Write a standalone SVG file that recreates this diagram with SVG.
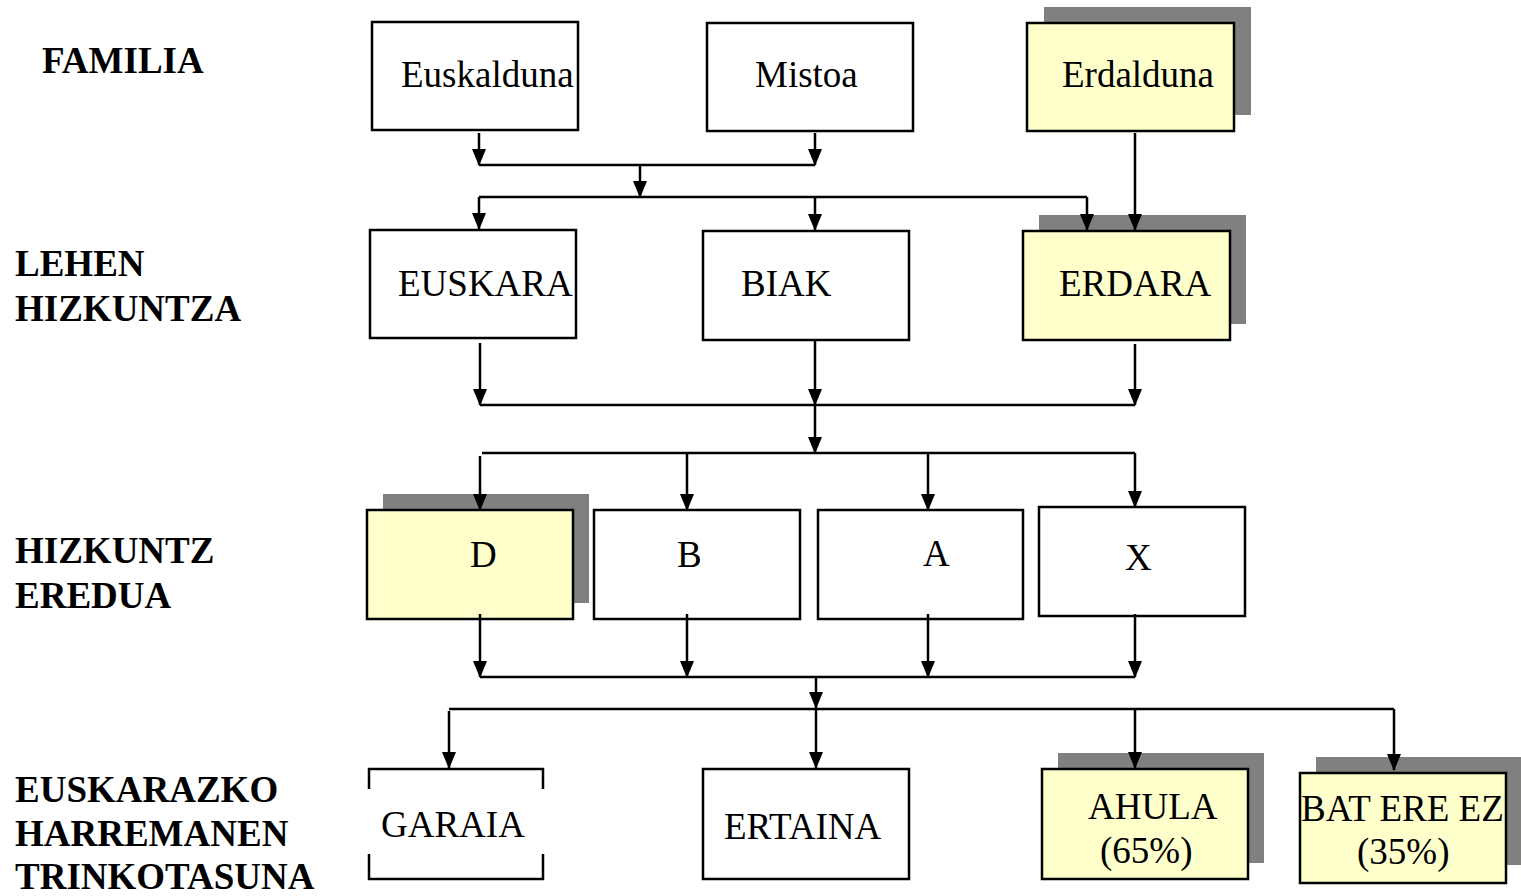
<svg xmlns="http://www.w3.org/2000/svg" width="1521" height="896" viewBox="0 0 1521 896">
<style>
.box{fill:#ffffff;stroke:#000;stroke-width:2.5}
.hl{fill:#ffffcc;stroke:#000;stroke-width:2.5}
.sh{fill:#808080;stroke:none}
.t{font-family:"Liberation Serif","Times New Roman",serif;font-size:37px;fill:#000}
.lab{font-family:"Liberation Serif","Times New Roman",serif;font-size:37px;font-weight:bold;fill:#000}
.ln{fill:none;stroke:#000;stroke-width:2.5}
.ar{fill:none;stroke:#000;stroke-width:2.5;marker-end:url(#ah)}
</style>
<defs>
<marker id="ah" markerUnits="userSpaceOnUse" markerWidth="17" markerHeight="14" refX="16" refY="7" orient="auto" viewBox="0 0 17 14">
<path d="M0,0 L17,7 L0,14 z" fill="#000"/>
</marker>
</defs>
<rect width="1521" height="896" fill="#ffffff"/>

<g id="labels">
<text class="lab" x="42" y="73">FAMILIA</text>
<text class="lab" x="15" y="276">LEHEN</text>
<text class="lab" x="15" y="321">HIZKUNTZA</text>
<text class="lab" x="15" y="563">HIZKUNTZ</text>
<text class="lab" x="15" y="608">EREDUA</text>
<text class="lab" x="15" y="802">EUSKARAZKO</text>
<text class="lab" x="15" y="846">HARREMANEN</text>
<text class="lab" x="15" y="889">TRINKOTASUNA</text>
</g>

<g id="euskalduna">
<rect class="box" x="372" y="22" width="206" height="108"/>
<text class="t" x="401" y="87">Euskalduna</text>
</g>
<g id="mistoa">
<rect class="box" x="707" y="23" width="206" height="108"/>
<text class="t" x="755" y="87">Mistoa</text>
</g>
<g id="erdalduna">
<rect class="sh" x="1044" y="7" width="207" height="108"/>
<rect class="hl" x="1027" y="23" width="207" height="108"/>
<text class="t" x="1062" y="87">Erdalduna</text>
</g>

<g id="euskara">
<rect class="box" x="370" y="230" width="206" height="108"/>
<text class="t" x="398" y="296">EUSKARA</text>
</g>
<g id="biak">
<rect class="box" x="703" y="231" width="206" height="109"/>
<text class="t" x="741" y="296">BIAK</text>
</g>
<g id="erdara">
<rect class="sh" x="1039" y="215" width="207" height="109"/>
<rect class="hl" x="1023" y="231" width="207" height="109"/>
<text class="t" x="1059" y="296">ERDARA</text>
</g>

<g id="ereduD">
<rect class="sh" x="383" y="494" width="206" height="109"/>
<rect class="hl" x="367" y="510" width="206" height="109"/>
<text class="t" x="470" y="567">D</text>
</g>
<g id="ereduB">
<rect class="box" x="594" y="510" width="206" height="109"/>
<text class="t" x="677" y="567">B</text>
</g>
<g id="ereduA">
<rect class="box" x="818" y="510" width="205" height="109"/>
<text class="t" x="923" y="566">A</text>
</g>
<g id="ereduX">
<rect class="box" x="1039" y="507" width="206" height="109"/>
<text class="t" x="1125" y="570">X</text>
</g>

<g id="garaia">
<path class="ln" d="M369,789 V769 H543 V789 M369,854 V879 H543 V854"/>
<text class="t" x="381" y="837">GARAIA</text>
</g>
<g id="ertaina">
<rect class="box" x="703" y="769" width="206" height="110"/>
<text class="t" x="724" y="839">ERTAINA</text>
</g>
<g id="ahula">
<rect class="sh" x="1058" y="753" width="206" height="110"/>
<rect class="hl" x="1042" y="769" width="206" height="110"/>
<text class="t" x="1088" y="819">AHULA</text>
<text class="t" x="1100" y="863">(65%)</text>
</g>
<g id="bateereez">
<rect class="sh" x="1316" y="757" width="206" height="108"/>
<rect class="hl" x="1300" y="773" width="206" height="110"/>
<text class="t" x="1301" y="821">BAT ERE EZ</text>
<text class="t" x="1357" y="864">(35%)</text>
</g>

<g id="connectors">
<path class="ar" d="M479,133 V165"/>
<path class="ar" d="M815,133 V165"/>
<path class="ln" d="M479,165 H815"/>
<path class="ar" d="M640,165 V197"/>
<path class="ln" d="M479,197 H1087"/>
<path class="ar" d="M479,197 V229"/>
<path class="ar" d="M815,197 V230"/>
<path class="ar" d="M1087,197 V230"/>
<path class="ar" d="M1135,133 V230"/>

<path class="ar" d="M480,343 V405"/>
<path class="ar" d="M815,341 V405"/>
<path class="ar" d="M1135,344 V405"/>
<path class="ln" d="M480,405 H1135"/>
<path class="ar" d="M815,405 V453"/>
<path class="ln" d="M482,453 H1135"/>
<path class="ar" d="M480,456 V510"/>
<path class="ar" d="M687,453 V510"/>
<path class="ar" d="M928,453 V510"/>
<path class="ar" d="M1135,453 V507"/>

<path class="ar" d="M480,614 V677"/>
<path class="ar" d="M687,614 V677"/>
<path class="ar" d="M928,614 V677"/>
<path class="ar" d="M1135,614 V677"/>
<path class="ln" d="M480,677 H1135"/>
<path class="ar" d="M816,677 V708"/>
<path class="ln" d="M449,709 H1394"/>
<path class="ar" d="M449,711 V768"/>
<path class="ar" d="M816,709 V768"/>
<path class="ar" d="M1135,709 V768"/>
<path class="ar" d="M1394,709 V770"/>
</g>
</svg>
